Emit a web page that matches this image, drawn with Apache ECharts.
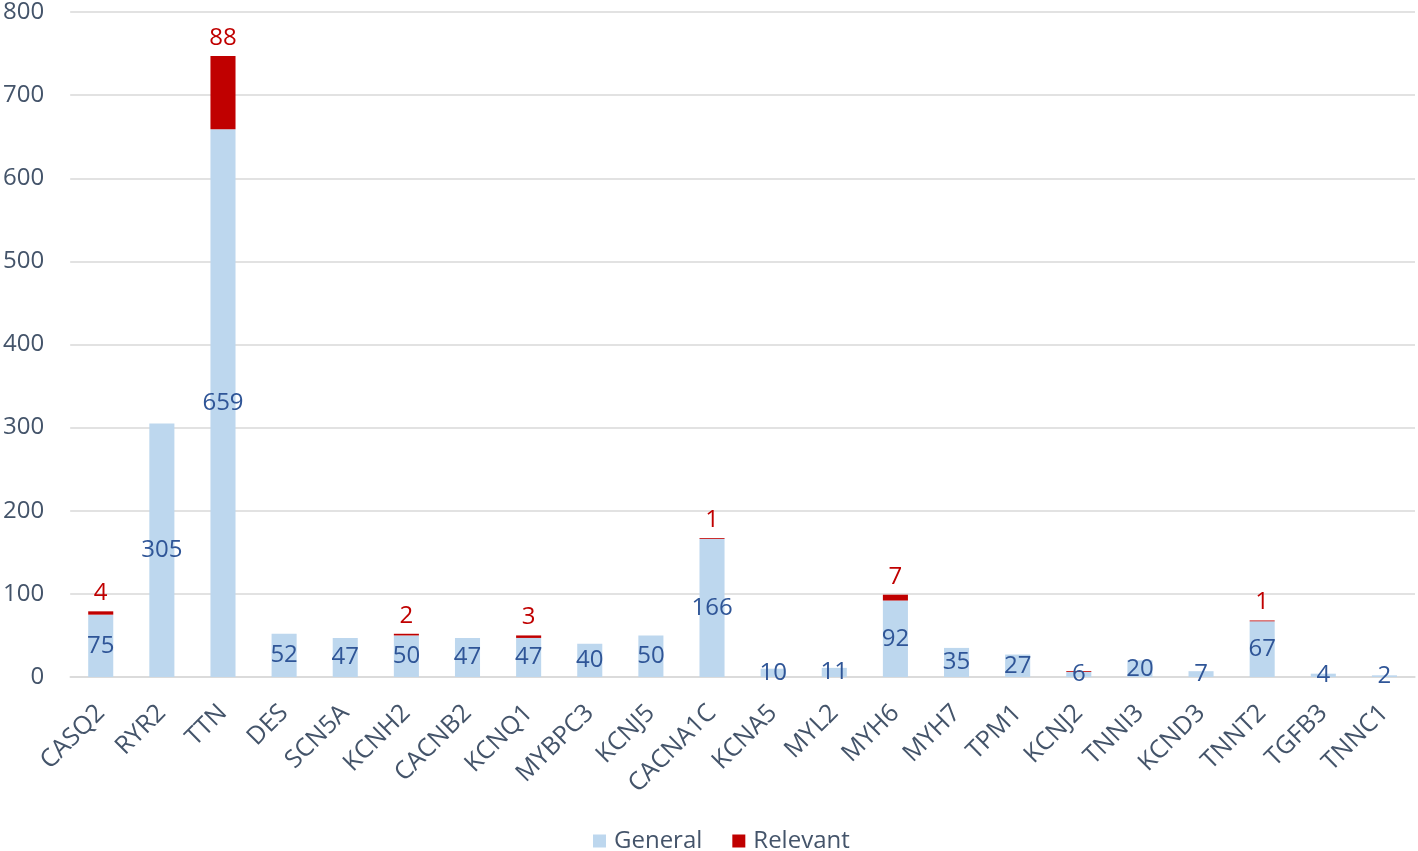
<!DOCTYPE html>
<html>
<head>
<meta charset="utf-8">
<script src="https://cdn.jsdelivr.net/npm/echarts@6/dist/echarts.min.js"></script>
<style>
  html, body { margin: 0; padding: 0; background: #fff; }
  #chart { width: 1418px; height: 851px; }
</style>
</head>
<body>
<div id="chart"></div>
<script>
var genes = ['CASQ2', 'RYR2', 'TTN', 'DES', 'SCN5A', 'KCNH2', 'CACNB2', 'KCNQ1', 'MYBPC3', 'KCNJ5', 'CACNA1C',
    'KCNA5', 'MYL2', 'MYH6', 'MYH7', 'TPM1', 'KCNJ2', 'TNNI3', 'KCND3', 'TNNT2', 'TGFB3', 'TNNC1'];
var general = [75, 305, 659, 52, 47, 50, 47, 47, 40, 50, 166, 10, 11, 92, 35, 27, 6, 20, 7, 67, 4, 2];
var relevant = [4, 0, 88, 0, 0, 2, 0, 3, 0, 0, 1, 0, 0, 7, 0, 0, 1, 0, 0, 1, 0, 0];
// KCNJ2 has a thin red cap but no number printed
var hideRelevantLabel = ['KCNJ2'];
var yTicks = [0, 100, 200, 300, 400, 500, 600, 700, 800];

var myChart = echarts.init(document.getElementById('chart'));

var font = '"Open Sans", "Noto Sans", sans-serif';
var axisColor = '#44546A';

option = {
    animation: false,
    textStyle: { fontFamily: font },
    legend: {
        data: ['General', 'Relevant'],
        bottom: -7,
        left: 588,
        itemWidth: 13,
        itemHeight: 13,
        itemGap: 30,
        icon: 'rect',
        textStyle: { fontSize: 24, color: axisColor, fontFamily: font, padding: [0, 0, 0, 3] }
    },
    grid: {
        left: 69,
        right: 3,
        top: 12,
        bottom: 174
    },
    yAxis: {
        type: 'value',
        min: yTicks[0],
        max: yTicks[yTicks.length - 1],
        interval: 100,
        axisLine: { show: false },
        axisTick: { show: false },
        axisLabel: { fontSize: 24, color: axisColor, margin: 26, fontFamily: font },
        splitLine: { lineStyle: { color: '#D9D9D9', width: 1.5 } }
    },
    xAxis: {
        type: 'category',
        data: genes,
        axisLine: { lineStyle: { color: '#D9D9D9', width: 1.5 } },
        axisTick: { show: false },
        axisLabel: { rotate: 45, fontSize: 25, color: axisColor, margin: 32, interval: 0, fontFamily: font }
    },
    series: [
        {
            name: 'General',
            type: 'bar',
            stack: 'total',
            barWidth: '41%',
            color: '#BDD7EE',
            label: {
                show: true,
                position: 'inside',
                fontSize: 24,
                color: '#2F5597',
                fontFamily: font
            },
            data: general
        },
        {
            name: 'Relevant',
            type: 'bar',
            stack: 'total',
            color: '#C00000',
            label: {
                show: true,
                position: 'top',
                distance: 6,
                fontSize: 24,
                color: '#C00000',
                fontFamily: font,
                formatter: function (p) {
                    if (!p.value || hideRelevantLabel.indexOf(p.name) >= 0) return '';
                    return p.value;
                }
            },
            data: relevant
        }
    ]
};
myChart.setOption(option);
</script>
</body>
</html>
